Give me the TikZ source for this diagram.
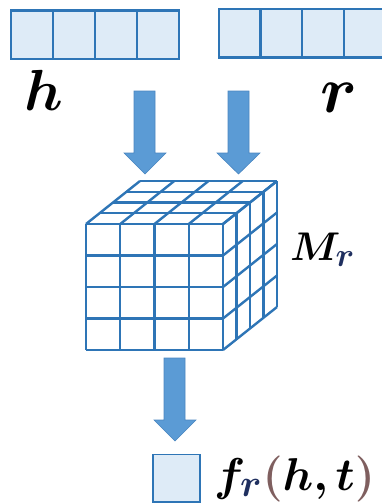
\documentclass[tikz,border=0pt]{standalone}
\usepackage{bm}
\definecolor{vecfill}{HTML}{DEEBF7}
\definecolor{vecline}{HTML}{2E75B6}
\definecolor{arrfill}{HTML}{5B9BD5}
\definecolor{arrline}{HTML}{4A86C0}
\definecolor{parcol}{HTML}{7F5F5F}
\definecolor{subcol}{HTML}{1F2F5F}
\tikzset{
  vecbox/.style={draw=vecline, fill=vecfill, line width=2.2pt},
  vecdiv/.style={draw=vecline, line width=2.2pt},
  blockarrow/.style={fill=arrfill, draw=arrline, line width=0.6pt, line join=miter},
  cubeline/.style={draw=vecline, line width=2.4pt, line join=round},
  lbl/.style={inner sep=0pt, outer sep=0pt, font=\Huge}
}
\begin{document}
\begin{tikzpicture}[x=1pt,y=-1pt]
\useasboundingbox (0,0) rectangle (382,504);
% left vector h
\draw[vecbox] (11,10.5) rectangle (179,59);
\foreach \x in {53,95,137} \draw[vecdiv] (\x,10.5) -- (\x,59);
% right vector r
\draw[vecbox] (219,9) rectangle (385,57.5);
\foreach \x in {260.5,302,344} \draw[vecdiv] (\x,9) -- (\x,57.5);
% labels
\node[lbl, anchor=base, scale=2.33] (hl) at (44,110) {$\bm{h}$};
\node[lbl, anchor=base, scale=2.65] (rl) at (339,112) {$\bm{r}$};
% arrows down into cube
\draw[blockarrow] (134,91) -- (155,91) -- (155,153) -- (166,153) -- (145,174) -- (124,153) -- (134,153) -- cycle;
\draw[blockarrow] (228,91) -- (249,91) -- (249,153) -- (260,153) -- (238.5,174) -- (217,153) -- (228,153) -- cycle;
% cube
\fill[white] (86,224) -- (140,181) -- (277,181) -- (277,307) -- (223,350) -- (86,350) -- cycle;
% front face grid
\foreach \i in {0,1,2,3,4} {
  \draw[cubeline] (86+\i*34.25,224) -- (86+\i*34.25,350);
  \draw[cubeline] (86,224+\i*31.5) -- (223,224+\i*31.5);
}
% top face
\foreach \i in {0,1,2,3,4} {
  \draw[cubeline] (86+\i*13.5,224-\i*10.75) -- (223+\i*13.5,224-\i*10.75);
  \draw[cubeline] (86+\i*34.25,224) -- (140+\i*34.25,181);
}
% right face
\foreach \i in {0,1,2,3,4} {
  \draw[cubeline] (223+\i*13.5,224-\i*10.75) -- (223+\i*13.5,350-\i*10.75);
  \draw[cubeline] (223,224+\i*31.5) -- (277,181+\i*31.5);
}
% M_r label
\node[lbl, anchor=base west, scale=1.61] (ml) at (290,260) {$\bm{M_{\color{subcol}r}}$};
% arrow down to output
\draw[blockarrow] (164,358) -- (185,358) -- (185,420) -- (196,420) -- (175,441) -- (154,420) -- (164,420) -- cycle;
% output square
\draw[vecbox, line width=1.8pt] (153,454.5) rectangle (200,502);
\node[lbl, anchor=base west, scale=1.85] (fl) at (214,490) {$\bm{f_{\color{subcol}r}}{\color{parcol}\bm{(}}\bm{h,t}{\color{parcol}\bm{)}}$};
\end{tikzpicture}
\end{document}
